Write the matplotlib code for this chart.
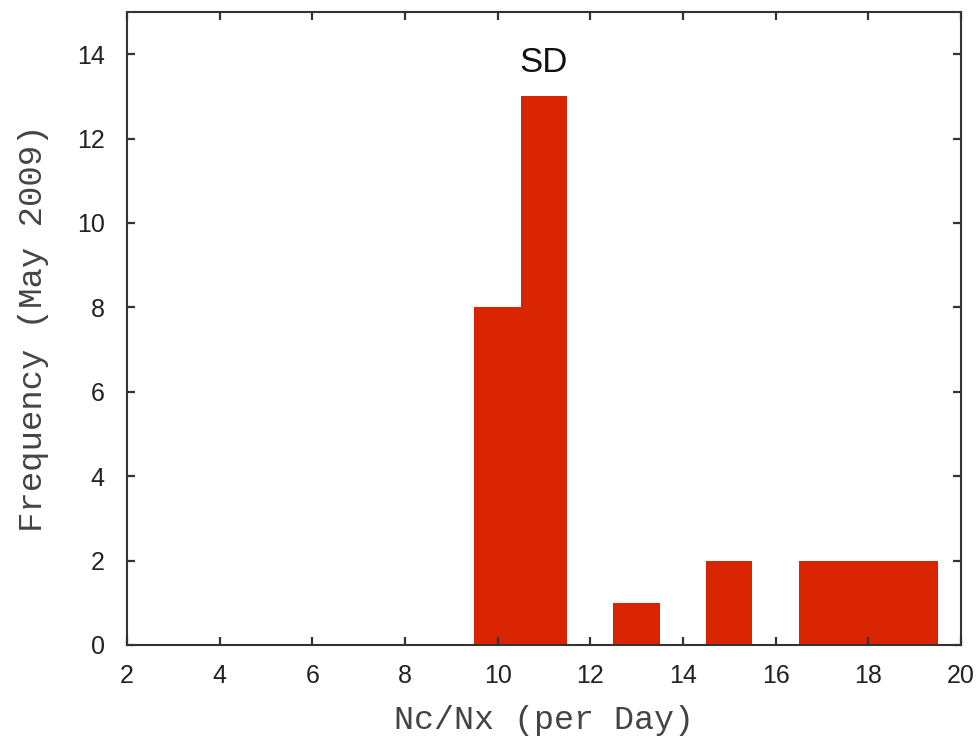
import numpy as np
import matplotlib.pyplot as plt

# bin centres and counts
centres = [10, 11, 13, 15, 17, 18, 19]
counts = [8, 13, 1, 2, 2, 2, 2]
xticks = [2, 4, 6, 8, 10, 12, 14, 16, 18, 20]
yticks = [0, 2, 4, 6, 8, 10, 12, 14]

fig = plt.figure(figsize=(9.79, 7.4), dpi=100)
ax = fig.add_axes([0.1297, 0.1284, 0.8519, 0.8554])

ax.bar(centres, counts, width=1.0, color='#d92400', edgecolor='none')

ax.set_xlim(2, 20)
ax.set_ylim(0, 15)
ax.set_xticks(xticks)
ax.set_yticks(yticks)
ax.tick_params(direction='in', top=True, right=True, length=6, width=1.6,
               color='#333333', labelcolor='#222222', labelsize=18)
ax.tick_params(axis='x', pad=14)
ax.tick_params(axis='y', pad=16)
for lab in ax.get_xticklabels() + ax.get_yticklabels():
	lab.set_family('Liberation Sans')
for s in ax.spines.values():
	s.set_linewidth(1.5)
	s.set_color('#333333')

ax.set_xlabel('Nc/Nx (per Day)', family='Liberation Mono', fontsize=24, color='#444444', labelpad=12)
ax.set_ylabel('Frequency (May 2009)', family='Liberation Mono', fontsize=24.5, color='#444444', labelpad=20)
ax.text(11, 13.8, 'SD', family='Liberation Sans', fontsize=25, ha='center', va='center', color='#111111')

fig.savefig('out.png', dpi=100)
